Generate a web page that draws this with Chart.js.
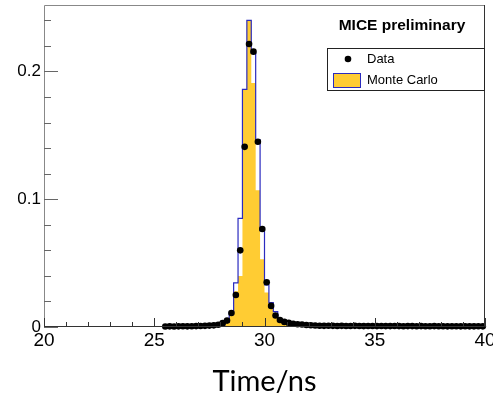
<!DOCTYPE html>
<html>
<head>
<meta charset="utf-8">
<script src="https://cdn.jsdelivr.net/npm/chart.js@4/dist/chart.umd.min.js"></script>
<style>
  html, body { margin: 0; padding: 0; background: #fff; }
</style>
</head>
<body>
<canvas id="chart" width="493" height="398"></canvas>
<script>
// data points (bin centres, ns) and their heights
const dataTimes = [
  25.5, 25.7, 25.9, 26.1, 26.3, 26.5, 26.7, 26.9, 27.1, 27.3, 27.5,
  27.7, 27.9, 28.1, 28.3, 28.5, 28.7, 28.9, 29.1, 29.3, 29.5, 29.7, 29.9,
  30.1, 30.3, 30.5, 30.7, 30.9, 31.1, 31.3, 31.5, 31.7, 31.9, 32.1, 32.3,
  32.5, 32.7, 32.9, 33.1, 33.3, 33.5, 33.7, 33.9, 34.1, 34.3, 34.5, 34.7,
  34.9, 35.1, 35.3, 35.5, 35.7, 35.9, 36.1, 36.3, 36.5, 36.7, 36.9, 37.1,
  37.3, 37.5, 37.7, 37.9, 38.1, 38.3, 38.5, 38.7, 38.9, 39.1, 39.3, 39.5,
  39.7, 39.9
];
const dataValues = [
  0.0004, 0.0005, 0.0004, 0.0005, 0.0006, 0.0005, 0.0006, 0.0007, 0.0008, 0.0009, 0.0011,
  0.0013, 0.0018, 0.0030, 0.0050, 0.0110, 0.0250, 0.0600, 0.1410, 0.2215, 0.2155, 0.1450, 0.0767,
  0.0350, 0.0165, 0.0090, 0.0055, 0.0040, 0.0032, 0.0026, 0.0022, 0.0019, 0.0016, 0.0014, 0.0012,
  0.0010, 0.0009, 0.0010, 0.0009, 0.0008, 0.0009, 0.0008, 0.0008, 0.0009, 0.0008, 0.0007, 0.0008,
  0.0008, 0.0007, 0.0008, 0.0007, 0.0007, 0.0008, 0.0007, 0.0006, 0.0007, 0.0007, 0.0006, 0.0007,
  0.0006, 0.0006, 0.0007, 0.0006, 0.0006, 0.0005, 0.0006, 0.0006, 0.0005, 0.0006, 0.0005, 0.0005,
  0.0006, 0.0005
];

// Monte Carlo histogram: bin edges, filled heights and outline heights
const mcEdges = [28.0, 28.2, 28.4, 28.6, 28.8, 29.0, 29.2, 29.4, 29.6, 29.8,
                 30.0, 30.2, 30.4, 30.6, 30.8, 31.0, 31.2, 31.4];
const mcFill  = [0.0015, 0.0035, 0.009, 0.028, 0.040, 0.186, 0.240, 0.191, 0.107,
                 0.053, 0.027, 0.019, 0.011, 0.006, 0.0035, 0.002, 0.0015];
const mcLine  = [0.0015, 0.004, 0.011, 0.0345, 0.085, 0.186, 0.240, 0.2145, 0.1465,
                 0.0755, 0.033, 0.019, 0.012, 0.006, 0.0035, 0.002, 0.0015];

const xTicks = [20, 25, 30, 35, 40];
const yTicks = [0, 0.1, 0.2];

const YELLOW = "#ffcc33";
const BLUE = "#2b2bbf";

// points for a step line: (lowEdge, height) for each bin, closed at zero
function stepPoints(edges, vals) {
  var pts = [{ x: edges[0], y: 0 }];
  vals.forEach(function (v, i) { pts.push({ x: edges[i], y: v }); });
  pts.push({ x: edges[edges.length - 1], y: vals[vals.length - 1] });
  pts.push({ x: edges[edges.length - 1], y: 0 });
  return pts;
}

// frame, inward ticks, legend box and label
const decor = {
  id: "decor",
  afterDraw: function (chart) {
    const ctx = chart.ctx;
    const a = chart.chartArea;
    const xs = chart.scales.x, ys = chart.scales.y;
    ctx.save();
    ctx.lineWidth = 1;
    // frame
    ctx.strokeStyle = "#888";
    ctx.beginPath();
    ctx.moveTo(a.left + 0.5, a.bottom); ctx.lineTo(a.left + 0.5, a.top + 0.5);
    ctx.lineTo(a.right - 0.5, a.top + 0.5);
    ctx.stroke();
    ctx.strokeStyle = "#333";
    ctx.beginPath();
    ctx.moveTo(a.right - 0.5, a.top); ctx.lineTo(a.right - 0.5, a.bottom - 0.5);
    ctx.lineTo(a.left, a.bottom - 0.5);
    ctx.stroke();
    // y ticks
    ctx.strokeStyle = "#666";
    ctx.beginPath();
    for (let v = 0; v <= ys.max + 1e-9; v += 0.02) {
      const y = Math.round(ys.getPixelForValue(v)) + 0.5;
      const major = Math.abs(v / 0.1 - Math.round(v / 0.1)) < 1e-6;
      ctx.moveTo(a.left, y); ctx.lineTo(a.left + (major ? 14 : 7), y);
    }
    ctx.stroke();
    // x ticks
    ctx.strokeStyle = "#333";
    ctx.beginPath();
    for (let v = xs.min; v <= xs.max; v += 1) {
      const x = Math.round(xs.getPixelForValue(v)) + 0.5;
      const major = v % 5 === 0;
      ctx.moveTo(x, a.bottom); ctx.lineTo(x, a.bottom - (major ? 9 : 5));
    }
    ctx.stroke();

    // title text
    ctx.fillStyle = "#000";
    ctx.font = "bold 15.5px 'Liberation Sans', Arial, sans-serif";
    ctx.textAlign = "center";
    ctx.textBaseline = "middle";
    ctx.fillText("MICE preliminary", 402, 26);

    // legend box
    const lx = 327, ly = 48, lr = a.right, lb = 90;
    ctx.strokeStyle = "#222";
    ctx.strokeRect(lx + 0.5, ly + 0.5, lr - lx - 1, lb - ly);
    const ds = chart.data.datasets;
    ctx.font = "13px 'Liberation Sans', Arial, sans-serif";
    ctx.textAlign = "left";
    ctx.fillStyle = "#000";
    ctx.beginPath();
    ctx.arc(348, 59, 3.3, 0, Math.PI * 2);
    ctx.fill();
    ctx.fillText(ds[0].label, 367, 59);
    ctx.fillStyle = YELLOW;
    ctx.fillRect(333.5, 73.5, 27, 14);
    ctx.strokeStyle = BLUE;
    ctx.strokeRect(333.5, 73.5, 27, 14);
    ctx.fillStyle = "#000";
    ctx.fillText(ds[1].label, 367, 80.5);
    ctx.restore();
  }
};

const ctx = document.getElementById("chart").getContext("2d");
const chart = new Chart(ctx, {
  type: "scatter",
  data: {
    datasets: [
      {
        label: "Data",
        data: dataTimes.map(function (t, i) { return { x: t, y: dataValues[i] }; }),
        pointRadius: 3.3,
        pointBackgroundColor: "#000",
        pointBorderWidth: 0,
        showLine: false,
        clip: false,
        order: 0
      },
      {
        label: "Monte Carlo",
        type: "line",
        data: stepPoints(mcEdges, mcLine),
        stepped: "before",
        borderColor: BLUE,
        borderWidth: 1.2,
        pointRadius: 0,
        fill: false,
        order: 1
      },
      {
        label: "Monte Carlo fill",
        type: "line",
        data: stepPoints(mcEdges, mcFill),
        stepped: "before",
        borderWidth: 0,
        borderColor: "rgba(0,0,0,0)",
        backgroundColor: YELLOW,
        pointRadius: 0,
        fill: "origin",
        order: 2
      }
    ]
  },
  options: {
    responsive: false,
    animation: false,
    layout: { padding: { top: 5, right: 8, left: 0, bottom: 0 } },
    plugins: {
      legend: { display: false },
      tooltip: { enabled: false },
      title: { display: false }
    },
    scales: {
      x: {
        type: "linear",
        min: 20,
        max: 40,
        afterBuildTicks: function (s) { s.ticks = xTicks.map(function (v) { return { value: v }; }); },
        afterFit: function (s) { s.height = 71; s.paddingLeft = 0; s.paddingRight = 0; },
        grid: { display: false, drawTicks: false },
        border: { display: false },
        ticks: {
          autoSkip: false,
          maxRotation: 0,
          padding: 2,
          color: "#000",
          font: { family: "'Liberation Sans', Arial, sans-serif", size: 19 }
        },
        title: {
          display: true,
          text: "Time/ns",
          color: "#000",
          padding: { top: 0, bottom: 2 },
          font: { family: "Lato, 'Open Sans', sans-serif", size: 29, lineHeight: 1 }
        }
      },
      y: {
        min: 0,
        max: 0.252,
        afterBuildTicks: function (s) { s.ticks = yTicks.map(function (v) { return { value: v }; }); },
        afterFit: function (s) { s.width = 44; s.paddingTop = 0; s.paddingBottom = 0; },
        grid: { display: false, drawTicks: false },
        border: { display: false },
        ticks: {
          padding: 3,
          color: "#000",
          font: { family: "'Liberation Sans', Arial, sans-serif", size: 17 },
          callback: function (v) { return String(v); }
        }
      }
    }
  },
  plugins: [decor]
});
</script>
</body>
</html>
